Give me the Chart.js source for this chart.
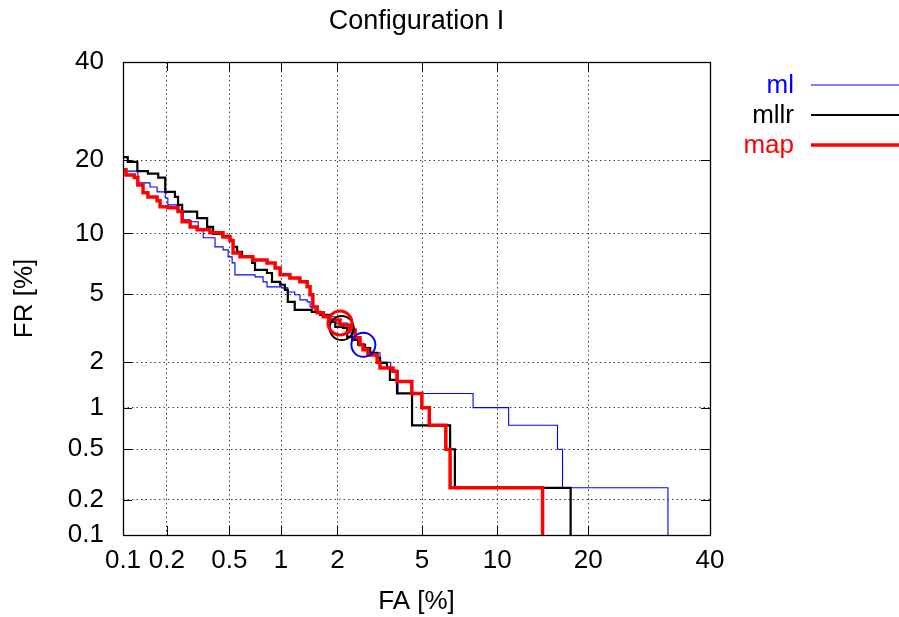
<!DOCTYPE html>
<html><head><meta charset="utf-8">
<script src="https://cdn.jsdelivr.net/npm/chart.js@4.4.0/dist/chart.umd.min.js"></script>
<style>html,body{margin:0;padding:0;background:#fff;}#wrap{width:899px;height:617px;}</style>
</head><body><div id="wrap"><canvas id="c" width="899" height="617"></canvas></div>
<script>
// ---- data (percent) ----
const titleText = 'Configuration I';
const xTitle = 'FA [%]';
const yTitle = 'FR [%]';
const xTicks = [0.1, 0.2, 0.5, 1, 2, 5, 10, 20, 40];
const yTicks = [0.1, 0.2, 0.5, 1, 2, 5, 10, 20, 40];
const seriesNames = ['ml', 'mllr', 'map'];

const mlFA = [0.05, 0.127, 0.154, 0.172, 0.195, 0.203, 0.233, 0.256, 0.284, 0.32, 0.344, 0.408, 0.457, 0.491, 0.519, 0.54, 0.71, 0.79, 0.833, 1.01, 1.09, 1.19, 1.27, 1.39, 1.44, 1.53, 1.69, 1.95, 2.24, 2.37, 2.54, 2.68, 2.83, 3.23, 3.62, 3.91, 8.1, 11.0, 16.1, 16.7, 32.4];
const mlFR = [18.2, 16.4, 15.8, 15.1, 14.26, 13.35, 12.7, 11.5, 11.28, 10.4, 9.55, 8.66, 8.38, 7.75, 7.24, 6.3, 6.15, 5.8, 5.46, 5.39, 5.13, 4.95, 4.65, 4.53, 4.25, 3.99, 3.74, 3.45, 3.02, 2.74, 2.56, 2.45, 2.29, 2.0, 1.75, 1.25, 1.0, 0.75, 0.5, 0.25, 0.01];

const mllrFA = [0.05, 0.108, 0.126, 0.149, 0.175, 0.195, 0.226, 0.237, 0.252, 0.315, 0.364, 0.397, 0.452, 0.504, 0.526, 0.556, 0.595, 0.683, 0.71, 0.833, 0.889, 0.988, 1.05, 1.09, 1.19, 1.47, 1.63, 1.83, 1.95, 2.13, 2.24, 2.37, 2.54, 2.74, 2.90, 3.13, 3.23, 3.48, 3.59, 3.87, 4.52, 6.56, 6.86, 17.7];
const mllrFR = [20.5, 19.7, 18.2, 17.8, 17.2, 15.1, 14.4, 13.35, 12.5, 11.7, 10.7, 9.96, 9.74, 9.35, 8.66, 8.2, 7.75, 7.24, 6.68, 6.44, 5.8, 5.6, 5.26, 4.53, 4.09, 3.99, 3.84, 3.5, 3.27, 3.23, 2.86, 2.74, 2.56, 2.45, 2.29, 2.13, 1.98, 1.84, 1.54, 1.25, 0.75, 0.5, 0.25, 0.01];

const mapFA = [0.05, 0.105, 0.120, 0.127, 0.138, 0.149, 0.172, 0.180, 0.203, 0.237, 0.252, 0.284, 0.315, 0.379, 0.457, 0.504, 0.526, 0.579, 0.69, 0.833, 0.926, 0.988, 1.12, 1.27, 1.39, 1.44, 1.49, 1.57, 1.69, 1.83, 2.06, 2.31, 2.45, 2.59, 2.68, 2.83, 3.13, 3.23, 3.71, 3.87, 4.51, 4.99, 5.37, 6.3, 6.56, 14.4];
const mapFR = [18.4, 17.6, 17.2, 16.1, 14.96, 14.4, 13.87, 13.1, 12.98, 12.5, 11.28, 10.7, 10.4, 10.06, 9.64, 9.25, 8.1, 7.75, 7.49, 7.24, 6.83, 6.3, 6.08, 5.8, 5.46, 4.95, 4.25, 3.94, 3.74, 3.59, 3.36, 3.14, 2.82, 2.56, 2.39, 2.22, 2.0, 1.84, 1.75, 1.5, 1.25, 1.0, 0.75, 0.5, 0.25, 0.01];

// operating points (circles) for ml, mllr, map
const opFA = [2.69, 2.10, 2.06];
const opFR = [2.56, 3.22, 3.45];

// ---- probit scale ----
function probit(p) {
  if (p <= 0) return -10; if (p >= 1) return 10;
  const a = [-3.969683028665376e+01, 2.209460984245205e+02, -2.759285104469687e+02, 1.383577518672690e+02, -3.066479806614716e+01, 2.506628277459239e+00];
  const b = [-5.447609879822406e+01, 1.615858368580409e+02, -1.556989798598866e+02, 6.680131188771972e+01, -1.328068155288572e+01];
  const c = [-7.784894002430293e-03, -3.223964580411365e-01, -2.400758277161838e+00, -2.549732539343734e+00, 4.374664141464968e+00, 2.938163982698783e+00];
  const d = [7.784695709041462e-03, 3.224671290700398e-01, 2.445134137142996e+00, 3.754408661907416e+00];
  const pl = 0.02425, ph = 1 - pl; let q, r;
  if (p < pl) { q = Math.sqrt(-2 * Math.log(p)); return (((((c[0]*q+c[1])*q+c[2])*q+c[3])*q+c[4])*q+c[5]) / ((((d[0]*q+d[1])*q+d[2])*q+d[3])*q+1); }
  if (p <= ph) { q = p - 0.5; r = q*q; return (((((a[0]*r+a[1])*r+a[2])*r+a[3])*r+a[4])*r+a[5])*q / (((((b[0]*r+b[1])*r+b[2])*r+b[3])*r+b[4])*r+1); }
  q = Math.sqrt(-2 * Math.log(1 - p)); return -(((((c[0]*q+c[1])*q+c[2])*q+c[3])*q+c[4])*q+c[5]) / ((((d[0]*q+d[1])*q+d[2])*q+d[3])*q+1);
}
function phi(z) {
  const t = 1 / (1 + 0.2316419 * Math.abs(z));
  const y = 0.3989423 * Math.exp(-z*z/2) * t * (0.3193815 + t*(-0.3565638 + t*(1.781478 + t*(-1.821256 + t*1.330274))));
  return z > 0 ? 1 - y : y;
}
class ProbitScale extends Chart.Scale {
  determineDataLimits() { this.min = this.options.min; this.max = this.options.max; }
  buildTicks() {
    const vals = this.axis === 'x' ? xTicks : yTicks;
    return vals.map(v => ({ value: v }));
  }
  getLabelForValue(v) { return String(v); }
  configure() {
    super.configure();
    this._zmin = probit(this.min / 100);
    this._zmax = probit(this.max / 100);
  }
  getPixelForValue(v) {
    if (v === null || v === undefined || isNaN(v)) return NaN;
    return this.getPixelForDecimal((probit(v / 100) - this._zmin) / (this._zmax - this._zmin));
  }
  getPixelForTick(i) { const t = this.ticks[i]; return t ? this.getPixelForValue(t.value) : NaN; }
  getValueForPixel(px) {
    const dd = this.getDecimalForPixel(px);
    return 100 * phi(this._zmin + dd * (this._zmax - this._zmin));
  }
}
ProbitScale.id = 'probit';
ProbitScale.defaults = {};
Chart.register(ProbitScale);

const FONT = '"Liberation Sans", Arial, Helvetica, sans-serif';
Chart.defaults.font.family = FONT;
Chart.defaults.font.size = 26;
Chart.defaults.color = '#000';

function pts(xs, ys) { return xs.map((x, i) => ({ x: x, y: ys[i] })); }

const decor = {
  id: 'decor',
  afterDatasetsDraw(chart) {
    const ctx = chart.ctx, a = chart.chartArea;
    const xs = chart.scales.x, ys = chart.scales.y;
    ctx.save();
    ctx.strokeStyle = '#000'; ctx.lineWidth = 1;
    ctx.beginPath();
    const tl = 9;
    xTicks.forEach(v => {
      const px = Math.round(xs.getPixelForValue(v)) + 0.5;
      if (px < a.left + 2 || px > a.right - 2) return;
      ctx.moveTo(px, a.bottom); ctx.lineTo(px, a.bottom - tl);
      ctx.moveTo(px, a.top); ctx.lineTo(px, a.top + tl);
    });
    yTicks.forEach(v => {
      const py = Math.round(ys.getPixelForValue(v)) + 0.5;
      if (py < a.top + 2 || py > a.bottom - 2) return;
      ctx.moveTo(a.left, py); ctx.lineTo(a.left + tl, py);
      ctx.moveTo(a.right, py); ctx.lineTo(a.right - tl, py);
    });
    ctx.stroke();
    ctx.lineWidth = 1.3;
    ctx.strokeRect(Math.round(a.left) + 0.5, Math.round(a.top) + 0.5, Math.round(a.right - a.left), Math.round(a.bottom - a.top));
    // title
    ctx.fillStyle = '#000';
    ctx.font = '27px ' + FONT;
    ctx.textAlign = 'center'; ctx.textBaseline = 'middle';
    ctx.fillText(titleText, (a.left + a.right) / 2, 22);
    // legend
    ctx.font = '26px ' + FONT;
    const ent = [
      { t: seriesNames[0], c: '#0000ff', w: 1.1, y: 85 },
      { t: seriesNames[1], c: '#000000', w: 2.2, y: 115 },
      { t: seriesNames[2], c: '#ff0000', w: 3.5, y: 145 }
    ];
    ctx.textAlign = 'right';
    ent.forEach(e => {
      ctx.fillStyle = e.c;
      ctx.fillText(e.t, 794, e.y + 1);
      ctx.strokeStyle = e.c; ctx.lineWidth = e.w;
      ctx.beginPath(); ctx.moveTo(811, e.y); ctx.lineTo(899, e.y); ctx.stroke();
    });
    ctx.restore();
  }
};

const gridCfg = { color: 'rgba(0,0,0,0.75)', lineWidth: 1, drawTicks: false };
const borderCfg = { display: false, dash: [1.5, 3] };

new Chart(document.getElementById('c'), {
  type: 'line',
  data: {
    datasets: [
      { label: 'op', data: pts(opFA, opFR), showLine: false, pointRadius: 12, pointHoverRadius: 12,
        pointBorderColor: ['#0000ff', '#000000', '#ff0000'], pointBorderWidth: [2, 2, 3],
        pointBackgroundColor: 'rgba(0,0,0,0)', order: 0, clip: false },
      { label: seriesNames[2], data: pts(mapFA, mapFR), borderColor: '#ff0000', borderWidth: 3.5,
        stepped: 'before', pointRadius: 0, order: 1, clip: 0, borderJoinStyle: 'miter', borderCapStyle: 'butt' },
      { label: seriesNames[1], data: pts(mllrFA, mllrFR), borderColor: '#000000', borderWidth: 2.2,
        stepped: 'before', pointRadius: 0, order: 2, clip: 0, borderJoinStyle: 'miter' },
      { label: seriesNames[0], data: pts(mlFA, mlFR), borderColor: '#0000ff', borderWidth: 1.1,
        stepped: 'before', pointRadius: 0, order: 3, clip: 0, borderJoinStyle: 'miter' }
    ]
  },
  options: {
    responsive: false, animation: false, devicePixelRatio: 1, events: [],
    layout: { padding: { left: 0, right: 189, top: 62, bottom: 0 } },
    plugins: { legend: { display: false }, title: { display: false }, tooltip: { enabled: false } },
    scales: {
      x: { type: 'probit', position: 'bottom', min: 0.1, max: 40,
        grid: gridCfg, border: borderCfg,
        ticks: { autoSkip: false, maxRotation: 0, minRotation: 0, padding: 10, callback: v => String(v) },
        title: { display: true, text: xTitle, padding: { top: 0, bottom: 0 } },
        afterFit: s => { s.height = 82; } },
      y: { type: 'probit', position: 'left', min: 0.1, max: 40,
        grid: gridCfg, border: borderCfg,
        ticks: { autoSkip: false, padding: 19, callback: v => String(v) },
        title: { display: true, text: yTitle, padding: { top: 9, bottom: 0 } },
        afterFit: s => { s.width = 123; } }
    }
  },
  plugins: [decor]
});
</script></body></html>
